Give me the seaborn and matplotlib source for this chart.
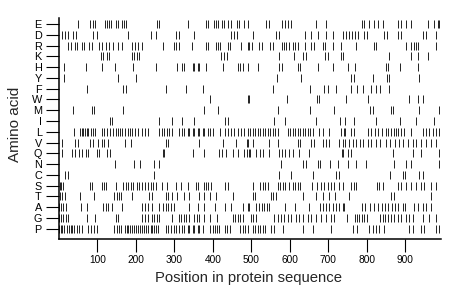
import matplotlib
matplotlib.use("Agg")
import matplotlib.pyplot as plt
import seaborn as sns
import pandas as pd

# amino acids, top row first
aminoacidos = ['E', 'D', 'R', 'K', 'H', 'Y', 'F', 'W', 'M', 'I',
               'L', 'V', 'Q', 'N', 'C', 'S', 'T', 'A', 'G', 'P']

# residue positions, one list per amino acid
pos_E = [50, 81, 89, 94, 120, 125, 131, 136, 149, 154, 164, 170, 175, 256, 261, 334, 381, 386,
         402, 407, 412, 423, 428, 438, 446, 462, 467, 480, 491, 538, 545, 579, 587, 595, 603,
         668, 694, 788, 793, 806, 819, 830, 843, 882, 890, 903, 916, 960, 976, 984, 989]
pos_D = [8, 16, 23, 37, 44, 89, 99, 180, 238, 251, 305, 311, 350, 446, 454, 462, 504, 564, 572,
         639, 655, 673, 694, 713, 739, 746, 754, 762, 770, 778, 793, 801, 846, 853, 882, 890,
         947, 955, 981]
pos_R = [23, 31, 42, 47, 60, 65, 78, 86, 104, 112, 123, 131, 141, 154, 164, 191, 198, 206, 217,
         271, 300, 305, 311, 345, 381, 386, 407, 412, 418, 438, 444, 472, 491, 493, 501, 519,
         527, 548, 556, 579, 585, 590, 598, 608, 613, 621, 639, 655, 663, 686, 692, 713, 733,
         773, 819, 825, 903, 916, 924, 929, 934, 981]
pos_K = [110, 115, 125, 131, 191, 196, 204, 209, 420, 428, 436, 572, 611, 634, 642, 692, 699,
         733, 739, 859, 916, 934, 958]
pos_H = [13, 70, 112, 146, 193, 253, 308, 321, 326, 347, 352, 360, 365, 381, 425, 464, 470, 478,
         491, 517, 572, 579, 621, 626, 673, 713, 752, 770, 851, 856, 887, 934]
pos_Y = [13, 154, 201, 566, 629, 759, 767, 817, 853, 859, 937]
pos_F = [73, 167, 175, 279, 329, 373, 556, 653, 689, 699, 720, 759, 775, 791, 812, 825, 835, 859]
pos_W = [392, 491, 493, 592, 671, 676, 746, 804, 911, 934, 947]
pos_M = [37, 86, 91, 167, 378, 412, 569, 653, 715, 809, 817, 864, 869, 937, 988]
pos_I = [133, 138, 261, 295, 321, 350, 431, 438, 559, 587, 668, 731, 744, 767, 825, 887, 927, 974]
pos_L = [39, 55, 60, 63, 68, 73, 76, 84, 89, 94, 112, 117, 125, 133, 141, 149, 154, 159, 164,
         172, 180, 185, 191, 198, 206, 217, 224, 232, 261, 269, 274, 282, 287, 295, 313, 321,
         326, 334, 339, 347, 352, 360, 365, 373, 378, 386, 392, 399, 418, 431, 438, 446, 454,
         465, 472, 480, 491, 496, 504, 509, 517, 522, 530, 535, 543, 548, 556, 561, 569, 595,
         600, 608, 613, 621, 626, 634, 639, 647, 653, 660, 676, 686, 702, 733, 741, 744, 759,
         767, 804, 812, 822, 830, 840, 851, 856, 864, 872, 877, 882, 890, 898, 916, 947, 955,
         963, 973, 981, 989]
pos_V = [8, 42, 50, 81, 89, 102, 112, 117, 128, 172, 188, 279, 284, 363, 425, 459, 488, 491, 504,
         545, 569, 621, 626, 655, 663, 686, 694, 702, 728, 739, 744, 754, 765, 773, 783, 791,
         804, 812, 825, 835, 851, 861, 874, 885, 895, 908, 919, 929, 942, 955, 968, 981]
pos_Q = [8, 34, 42, 52, 60, 70, 76, 99, 104, 125, 133, 271, 274, 347, 376, 415, 423, 433, 452,
         465, 480, 488, 493, 496, 512, 522, 530, 545, 572, 579, 587, 598, 608, 624, 650, 736,
         739, 752, 759, 869, 919, 942, 987]
pos_N = [146, 196, 211, 248, 259, 577, 634, 642, 673, 679, 705, 726, 752, 773, 799, 872, 903,
         914, 988]
pos_C = [16, 23, 248, 572, 603, 660, 720, 728, 861, 895, 900, 937, 945]
pos_S = [2, 5, 10, 81, 86, 112, 117, 123, 149, 167, 175, 180, 188, 193, 204, 209, 217, 224, 232,
         240, 245, 251, 269, 282, 303, 318, 334, 355, 360, 376, 381, 386, 394, 431, 438, 504,
         522, 530, 535, 543, 569, 574, 582, 587, 598, 608, 613, 621, 626, 658, 671, 681, 689,
         699, 707, 715, 728, 739, 759, 767, 773, 827, 833, 843, 882, 890, 903, 916, 929, 940,
         950, 968, 981]
pos_T = [3, 8, 16, 55, 91, 144, 151, 157, 162, 191, 235, 243, 277, 284, 295, 308, 324, 337, 363,
         376, 392, 407, 452, 504, 509, 551, 556, 564, 634, 668, 686, 702, 718, 754, 864, 872, 966]
pos_A = [1, 5, 10, 18, 57, 73, 115, 123, 128, 138, 164, 217, 224, 232, 243, 261, 271, 279, 284,
         292, 298, 339, 360, 376, 405, 431, 446, 478, 491, 493, 512, 519, 527, 532, 540, 546,
         587, 613, 650, 679, 686, 694, 702, 713, 720, 728, 739, 741, 788, 796, 809, 819, 830,
         840, 848, 856, 866, 874, 882, 893, 900, 924, 932, 947, 955, 968]
pos_G = [1, 5, 10, 18, 23, 73, 94, 149, 154, 217, 224, 232, 243, 248, 256, 261, 295, 311, 318,
         324, 331, 337, 350, 358, 363, 376, 392, 410, 452, 457, 465, 470, 478, 499, 504, 512,
         559, 569, 577, 585, 595, 603, 616, 624, 634, 647, 655, 668, 681, 694, 707, 715, 749,
         770, 775, 780, 788, 793, 801, 835, 843, 848, 856, 864, 872, 882, 890, 903, 911, 921,
         947, 963, 981]
pos_P = [1, 5, 8, 13, 21, 26, 31, 34, 39, 47, 52, 60, 76, 84, 91, 99, 144, 151, 157, 162, 172,
         177, 180, 185, 191, 196, 201, 206, 211, 217, 222, 227, 232, 238, 243, 248, 253, 258,
         279, 284, 292, 298, 305, 313, 321, 326, 334, 339, 347, 352, 360, 365, 373, 392, 399,
         405, 410, 415, 431, 436, 444, 470, 478, 483, 491, 504, 509, 517, 522, 530, 535, 551,
         559, 582, 634, 660, 707, 765, 775, 806, 817, 825, 833, 846, 911, 919, 940, 950, 981, 989]

posiciones = {
    'E': pos_E, 'D': pos_D, 'R': pos_R, 'K': pos_K, 'H': pos_H, 'Y': pos_Y, 'F': pos_F,
    'W': pos_W, 'M': pos_M, 'I': pos_I, 'L': pos_L, 'V': pos_V, 'Q': pos_Q, 'N': pos_N,
    'C': pos_C, 'S': pos_S, 'T': pos_T, 'A': pos_A, 'G': pos_G, 'P': pos_P,
}
ticks_x = [100, 200, 300, 400, 500, 600, 700, 800, 900]

# tabla larga: una fila por residuo
filas = []
for aa in aminoacidos:
    for p in posiciones[aa]:
        filas.append({'Aminoacido': aa, 'Posicion': p})
datos = pd.DataFrame(filas)

sns.set_style("ticks")
plt.rcParams['font.family'] = ['Liberation Sans', 'DejaVu Sans']

fig = plt.figure(figsize=(4.6, 2.99), dpi=100)
ax = fig.add_axes([0.1283, 0.2017, 0.8304, 0.738])

sns.scatterplot(
    data=datos,
    x='Posicion',
    y='Aminoacido',
    marker='|',
    s=26,
    color='#111111',
    linewidth=0.65,
    ax=ax,
    legend=False
)

ax.set_xlim(0, 993)
ax.set_ylim(19.93, -0.56)
ax.set_xticks(ticks_x)
ax.set_yticks(range(len(aminoacidos)))
ax.set_yticklabels(aminoacidos)

ax.tick_params(axis='both', which='both', direction='out', length=9.4, width=0.8,
               color='black', labelcolor='black', bottom=True, left=True)
ax.tick_params(axis='y', labelsize=7.8, pad=3)
ax.tick_params(axis='x', labelsize=7.3, pad=2)

sns.despine(ax=ax)
for lado in ['left', 'bottom']:
    ax.spines[lado].set_color('black')
    ax.spines[lado].set_linewidth(1.1)

ax.set_xlabel('Position in protein sequence', fontsize=10.7)
ax.set_ylabel('Amino acid', fontsize=11)
ax.xaxis.set_label_coords(0.496, -0.146)
ax.yaxis.set_label_coords(-0.097, 0.52)

fig.savefig('out.png', dpi=100)
